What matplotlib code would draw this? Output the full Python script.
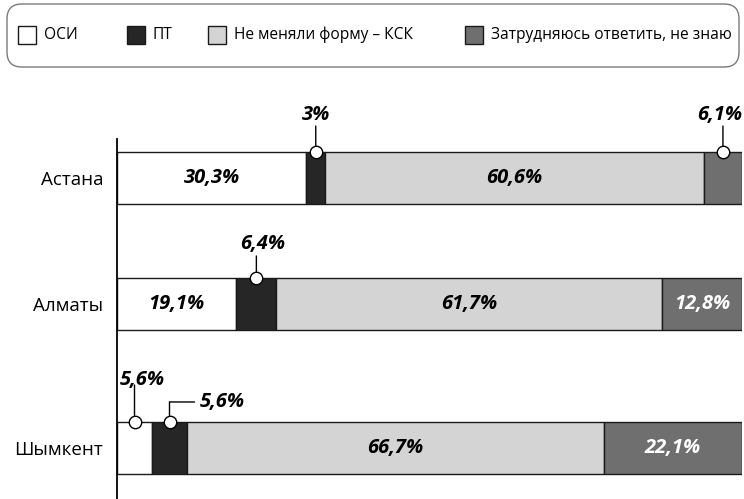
import numpy as np
import matplotlib.pyplot as plt
from matplotlib.patches import FancyBboxPatch, Rectangle
from matplotlib.transforms import offset_copy

plt.rcParams['font.family'] = ['Open Sans', 'DejaVu Sans']

# data
cities = ["Астана", "Алматы", "Шымкент"]
series = ["ОСИ", "ПТ", "Не меняли форму – КСК", "Затрудняюсь ответить, не знаю"]
osi = [30.3, 19.1, 5.6]
pt = [3.0, 6.4, 5.6]
ksk = [60.6, 61.7, 66.7]
dont_know = [6.1, 12.8, 22.1]

colors = ["#ffffff", "#262626", "#d4d4d4", "#6f6f6f"]
text_colors = ["black", "black", "black", "white"]

W, H = 744, 499
fig = plt.figure(figsize=(W / 100, H / 100), dpi=100)
ax = fig.add_axes([117 / W, 0, 625 / W, 360 / H])

ypos = np.array([0, 1, 2.143])
bar_h = 0.413
values = np.array([osi, pt, ksk, dont_know])
left = np.zeros(len(cities))
centers = []
for k in range(len(series)):
    ax.barh(ypos, values[k], left=left, height=bar_h, color=colors[k],
            edgecolor="#1a1a1a", linewidth=1.0, zorder=2)
    centers.append(left + values[k] / 2)
    left = left + values[k]
centers = np.array(centers)

def fmt(v):
    return f"{v:g}".replace(".", ",") + "%"

label_style = dict(fontsize=14.5, fontweight="bold", fontstyle="italic")

# labels inside wide segments
for k in range(len(series)):
    for i in range(len(cities)):
        v = values[k][i]
        if v >= 10:
            ax.text(centers[k][i], ypos[i], fmt(v), ha="center", va="center",
                    color=text_colors[k], zorder=4, **label_style)

# callouts for narrow segments: series, city, leader path (px), text pos (px), align
callouts = [
    (1, 0, [(0, 0), (0, 26)], (0, 37), "center"),
    (3, 0, [(0, 0), (0, 26)], (-3, 37), "center"),
    (1, 1, [(0, 0), (0, 22)], (6, 34), "center"),
    (0, 2, [(0, 0), (0, 37)], (8, 42), "center"),
    (1, 2, [(0, 0), (0, 20), (25, 20)], (30, 20), "left"),
]
for k, i, path, (tx, ty), align in callouts:
    x = centers[k][i]
    y = ypos[i] - bar_h / 2
    for (x0, y0), (x1, y1) in zip(path[:-1], path[1:]):
        start = offset_copy(ax.transData, fig=fig, x=x0, y=y0, units="dots")
        ax.annotate("", xy=(x, y), xycoords=start, xytext=(x1 - x0, y1 - y0),
                    textcoords="offset pixels", annotation_clip=False,
                    arrowprops=dict(arrowstyle="-", lw=1.0, color="black",
                                    shrinkA=0, shrinkB=0), zorder=3)
    ax.annotate(fmt(values[k][i]), xy=(x, y), xytext=(tx, ty),
                textcoords="offset pixels", ha=align, va="center",
                annotation_clip=False, zorder=3, **label_style)
    ax.scatter([x], [y], s=80, facecolor="white", edgecolor="black",
               linewidth=1.0, zorder=5, clip_on=False)

ax.set_xlim(0, 100)
ax.set_ylim(2.548, -0.31)
ax.set_yticks(ypos)
ax.set_yticklabels(cities, fontsize=13.5)
ax.tick_params(axis="y", length=0, pad=10)
ax.set_xticks([])
for s in ["top", "right", "bottom"]:
    ax.spines[s].set_visible(False)
ax.spines["left"].set_linewidth(1.3)
ax.spines["left"].set_color("black")

# legend box drawn by hand to keep the uneven spacing
box = FancyBboxPatch((7 / W, 432 / H), 732 / W, 63 / H,
                     boxstyle="round,pad=0,rounding_size=0.02",
                     transform=fig.transFigure, facecolor="white",
                     edgecolor="#7a7a7a", linewidth=1.0, mutation_aspect=W / H)
fig.patches.append(box)
leg_x = [18, 127, 208, 465]
for k, name in enumerate(series):
    fig.patches.append(Rectangle((leg_x[k] / W, 455 / H), 18 / W, 18 / H,
                                 transform=fig.transFigure, facecolor=colors[k],
                                 edgecolor="#1a1a1a", linewidth=1.0))
    fig.text((leg_x[k] + 26) / W, 464 / H, name, ha="left", va="center",
             fontsize=11.2)

fig.savefig("out.png", dpi=100)
